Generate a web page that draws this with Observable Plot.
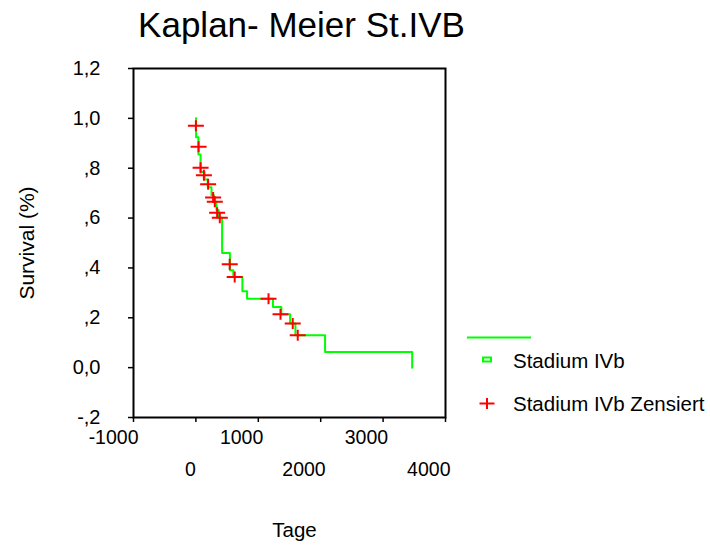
<!DOCTYPE html>
<html>
<head>
<meta charset="utf-8">
<script src="https://cdn.jsdelivr.net/npm/d3@7"></script>
<script src="https://cdn.jsdelivr.net/npm/@observablehq/plot@0.6"></script>
<style>
  body { margin: 0; background: #fff; }
  #wrap { position: relative; width: 710px; height: 545px; font-family: "Liberation Sans", Arial, sans-serif; }
  #legend { position: absolute; left: 0; top: 0; }
</style>
</head>
<body>
<div id="wrap"></div>
<script>
// Kaplan-Meier step curve (time in days, cumulative survival)
const times    = [0, 3, 40, 75, 140, 190, 250, 290, 330, 365, 420, 545, 600, 745, 820, 1235, 1370, 1510, 1595, 2070, 3466];
const survival = [1.000, 0.924, 0.855, 0.785, 0.755, 0.724, 0.692, 0.665, 0.632, 0.601, 0.460, 0.391, 0.364, 0.306, 0.276, 0.243, 0.214, 0.177, 0.130, 0.063, 0.000];

// Censored observations
const censorTimes    = [0, 43, 75, 128, 196, 276, 303, 340, 383, 542, 622, 1164, 1356, 1552, 1632];
const censorSurvival = [0.970, 0.886, 0.802, 0.772, 0.736, 0.683, 0.665, 0.621, 0.601, 0.415, 0.364, 0.276, 0.214, 0.177, 0.130];

// Axis ticks and labels
const yTicks      = [-0.2, 0, 0.2, 0.4, 0.6, 0.8, 1.0, 1.2];
const yTickLabels = ["-,2", "0,0", ",2", ",4", ",6", ",8", "1,0", "1,2"];
const xTicks      = [-1000, 0, 1000, 2000, 3000, 4000];
const xTicksRow1  = [-1000, 1000, 3000];
const xTicksRow2  = [2000, 4000];
const xTicksZero  = [0];

const titleText  = "Kaplan- Meier St.IVB";
const xLabel     = "Tage";
const yLabel     = "Survival (%)";
const legendLabels = ["Stadium IVb", "Stadium IVb Zensiert"];

const curve = times.map((t, i) => ({t, s: survival[i]}));
const censored = censorTimes.map((t, i) => ({t, s: censorSurvival[i]}));

const crossSymbol = {
  draw(ctx) {
    ctx.moveTo(-8, 0); ctx.lineTo(8, 0);
    ctx.moveTo(0, -5.5); ctx.lineTo(0, 5.5);
  }
};

const font = "Liberation Sans, Arial, sans-serif";
const plain = d => String(d);

const chart = Plot.plot({
  width: 710,
  height: 545,
  marginLeft: 133,
  marginRight: 265,
  marginTop: 68,
  marginBottom: 128,
  style: {fontFamily: font, color: "black", background: "white", overflow: "visible"},
  x: {domain: [-1000, 4000]},
  y: {domain: [-0.2, 1.2]},
  marks: [
    Plot.axisX(xTicks, {tickSize: 5, tickFormat: () => "", label: null, strokeWidth: 1.5}),
    Plot.axisY(yTicks, {tickSize: 5, tickFormat: () => "", label: null, strokeWidth: 1.5}),
    Plot.text(xTicksRow1, {x: d => d, text: plain, frameAnchor: "bottom", dy: 20, dx: 5, textAnchor: "end", lineAnchor: "middle", fontSize: 19.5, fill: "black"}),
    Plot.text(xTicksRow2, {x: d => d, text: plain, frameAnchor: "bottom", dy: 52, dx: 5, textAnchor: "end", lineAnchor: "middle", fontSize: 19.5, fill: "black"}),
    Plot.text(xTicksZero, {x: d => d, text: plain, frameAnchor: "bottom", dy: 52, dx: 0, textAnchor: "end", lineAnchor: "middle", fontSize: 19.5, fill: "black"}),
    Plot.text(yTicks, {y: d => d, text: yTickLabels, frameAnchor: "left", dx: -33, textAnchor: "end", lineAnchor: "middle", fontSize: 20, fill: "black"}),
    Plot.text([yLabel], {frameAnchor: "left", dx: -106, rotate: -90, textAnchor: "middle", lineAnchor: "middle", fontSize: 21, fill: "black"}),
    Plot.text([xLabel], {frameAnchor: "bottom", dy: 113, dx: 5, textAnchor: "middle", lineAnchor: "middle", fontSize: 20.5, fill: "black"}),
    Plot.text([titleText], {frameAnchor: "top", dy: -43, dx: 12, textAnchor: "middle", lineAnchor: "middle", fontSize: 35, fill: "black"}),
    Plot.line(curve, {x: "t", y: "s", curve: "step-after", stroke: "#00ff00", strokeWidth: 2}),
    Plot.dot(censored, {x: "t", y: "s", symbol: crossSymbol, fill: "none", stroke: "#ff0000", strokeWidth: 2}),
    Plot.frame({stroke: "black", strokeWidth: 2})
  ]
});

const wrap = document.getElementById("wrap");
wrap.appendChild(chart);

// Legend
const ns = "http://www.w3.org/2000/svg";
const leg = document.createElementNS(ns, "svg");
leg.setAttribute("id", "legend");
leg.setAttribute("width", 710);
leg.setAttribute("height", 545);
leg.innerHTML = `
  <line x1="467" y1="337.5" x2="531" y2="337.5" stroke="#00ff00" stroke-width="2"/>
  <rect x="483" y="357.5" width="8" height="4" fill="none" stroke="#00ff00" stroke-width="2"/>
  <line x1="479.5" y1="403.5" x2="494.5" y2="403.5" stroke="#ff0000" stroke-width="2"/>
  <line x1="487" y1="398" x2="487" y2="409" stroke="#ff0000" stroke-width="2"/>
  <text x="513" y="361" dy="0.35em" font-size="20.5" font-family="${font}" fill="black">${legendLabels[0]}</text>
  <text x="513" y="404" dy="0.35em" font-size="20.5" font-family="${font}" fill="black">${legendLabels[1]}</text>
`;
wrap.appendChild(leg);
</script>
</body>
</html>
